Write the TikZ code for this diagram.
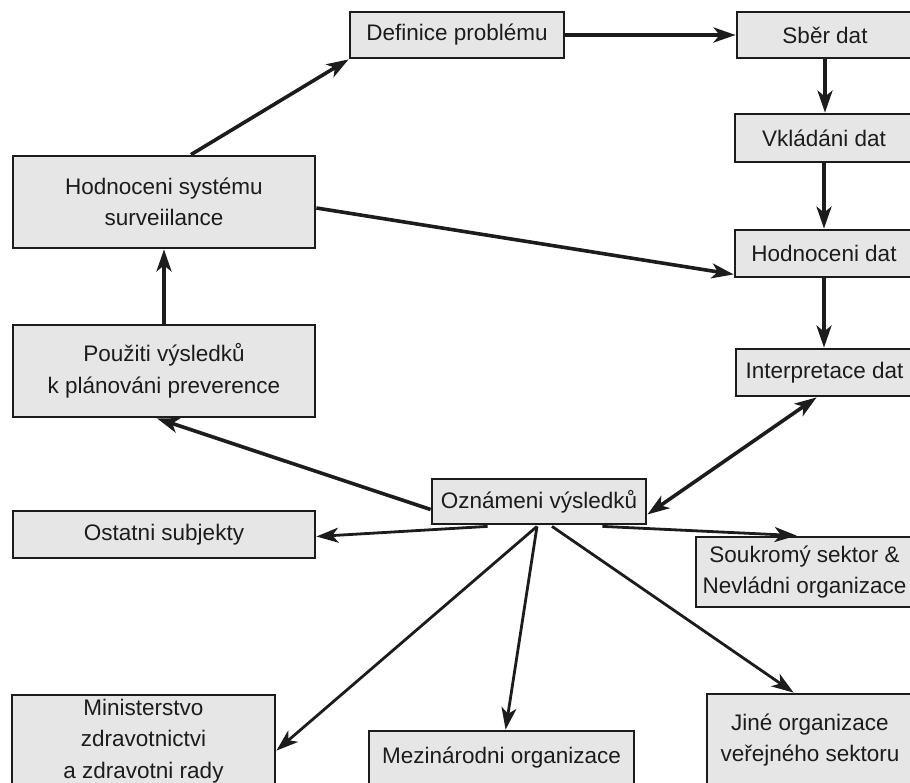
\documentclass[tikz,border=0pt]{standalone}
\usepackage{fontspec}
\setmainfont{Liberation Sans}
\usepackage{xcolor}
\usepackage{tikz}
\usetikzlibrary{arrows.meta,positioning,calc}
\definecolor{boxgray}{HTML}{E6E6E6}
\definecolor{inkgray}{HTML}{1C1C1C}

\begin{document}
\begin{tikzpicture}[
    x=1pt, y=-1pt,
    box/.style={rectangle, draw=inkgray, fill=boxgray, line width=2.8pt, align=center, inner sep=0pt, text=inkgray, font=\fontsize{22.5}{31.5}\selectfont},
    arrow/.style={-{Stealth[length=22pt, width=15pt, inset=6pt]}, line width=3.6pt, draw=inkgray},
    biarrow/.style={{Stealth[length=22pt, width=15pt, inset=6pt]}-{Stealth[length=22pt, width=15pt, inset=6pt]}, line width=3.6pt, draw=inkgray},
    thinarrow/.style={arrow, line width=2.8pt}
]
\useasboundingbox (0,0) rectangle (910,783);

\node[box, minimum width=214pt, minimum height=46pt] (defin) at (457,35) {Definice problému};
\node[box, minimum width=176pt, minimum height=46pt] (sber) at (825,35) {Sběr dat};
\node[box, minimum width=178pt, minimum height=48pt] (vklad) at (824,138) {Vkládáni dat};
\node[box, minimum width=178pt, minimum height=47pt] (hoddat) at (824,253.5) {Hodnoceni dat};
\node[box, minimum width=177pt, minimum height=47pt] (interp) at (824.5,372.5) {Interpretace dat};

\node[box, minimum width=302pt, minimum height=92pt] (hodsys) at (164,202) {Hodnoceni systému\\surveiilance};
\node[box, minimum width=302pt, minimum height=92pt] (pouz) at (164,371) {Použiti výsledků\\k plánováni preverence};
\node[box, minimum width=302pt, minimum height=47pt] (ostat) at (164,534.5) {Ostatni subjekty};

\node[box, minimum width=214pt, minimum height=45pt] (ozn) at (539,501.5) {Oznámeni výsledků};
\node[box, minimum width=217pt, minimum height=70pt] (soukr) at (804.5,572) {Soukromý sektor \&\\Nevládni organizace};

\node[box, minimum width=263pt, minimum height=92pt] (minist) at (143.5,741) {Ministerstvo\\zdravotnictvi\\a zdravotni rady};
\node[box, minimum width=265pt, minimum height=54pt] (mezin) at (501.5,758) {Mezinárodni organizace};
\node[box, minimum width=206pt, minimum height=92pt] (jine) at (810,740) {Jiné organizace\\veřejného sektoru};

\draw[arrow] (defin.east) -- (sber.west);
\draw[arrow] (sber.south) -- (sber.south |- vklad.north);
\draw[arrow] (vklad.south) -- (vklad.south |- hoddat.north);
\draw[arrow] (hoddat.south) -- (hoddat.south |- interp.north);

\draw[arrow] ($(hodsys.north)+(27,0)$) -- (defin.south west);
\draw[arrow] (pouz.north) -- (hodsys.south);
\draw[arrow] ($(hodsys.east)+(0,6)$) -- ($(hoddat.south west)+(0,-4)$);

\draw[biarrow] ($(ozn.east)+(0,13)$) -- ($(interp.south west)+(82,0)$);
\draw[arrow] ($(ozn.west)+(0,8)$) -- ($(pouz.south)+(-7,0)$);
\draw[thinarrow] ($(ozn.south west)+(57,1)$) -- ($(ostat.east)+(0,2)$);
\draw[thinarrow] ($(ozn.south east)+(-45,1)$) -- ($(soukr.north west)+(102,0)$);

\draw[thinarrow] ($(ozn.south)+(-2,1)$) -- ($(minist.north east)+(0,57)$);
\draw[thinarrow] ($(ozn.south)+(-2,1)$) -- ($(mezin.north west)+(138,0)$);
\draw[thinarrow] ($(ozn.south)+(13,1)$) -- ($(jine.north west)+(88,0)$);

\end{tikzpicture}
\end{document}
